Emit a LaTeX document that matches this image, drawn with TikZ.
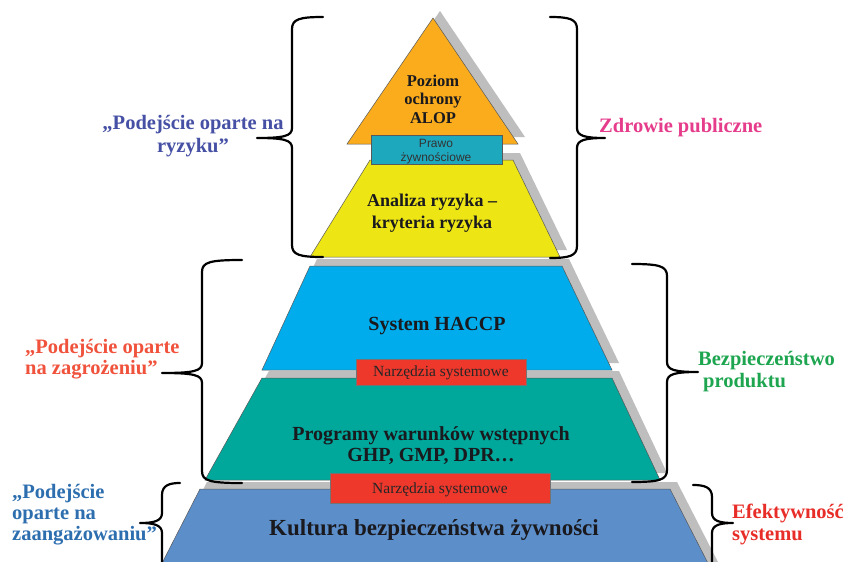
\documentclass[tikz,border=0pt]{standalone}
\usepackage{fontspec}
\setmainfont{Liberation Serif}
\newfontfamily\sansf{Liberation Sans}
\definecolor{cOrange}{RGB}{250,172,28}
\definecolor{cYellow}{RGB}{238,230,20}
\definecolor{cCyan}{RGB}{0,172,236}
\definecolor{cTeal}{RGB}{0,168,156}
\definecolor{cSteel}{RGB}{92,142,202}
\definecolor{cRed}{RGB}{238,56,44}
\definecolor{cLaw}{RGB}{30,168,190}
\definecolor{cShadow}{RGB}{190,190,190}
\definecolor{cLblBlue}{RGB}{70,80,165}
\definecolor{cLblRed}{RGB}{240,82,60}
\definecolor{cLblSteel}{RGB}{45,110,175}
\definecolor{cLblPink}{RGB}{230,60,140}
\definecolor{cLblGreen}{RGB}{30,165,80}
\definecolor{cLblRed2}{RGB}{232,45,40}
\definecolor{cTxt}{RGB}{25,25,30}
\newcommand{\BraceLeft}[6]{%
  \draw[bracestyle] (#1,#4) .. controls (#2+8,#4) and (#2,#4+2) .. (#2,#4+12)
    -- (#2,#5-10) .. controls (#2,#5-2) and (#2-8,#5) .. (#3,#5)
    .. controls (#2-8,#5) and (#2,#5+2) .. (#2,#5+10)
    -- (#2,#6-12) .. controls (#2,#6-2) and (#2+8,#6) .. (#1,#6);}
\newcommand{\BraceRight}[6]{%
  \draw[bracestyle] (#1,#4) .. controls (#2-8,#4) and (#2,#4+2) .. (#2,#4+12)
    -- (#2,#5-10) .. controls (#2,#5-2) and (#2+8,#5) .. (#3,#5)
    .. controls (#2+8,#5) and (#2,#5+2) .. (#2,#5+10)
    -- (#2,#6-12) .. controls (#2,#6-2) and (#2-8,#6) .. (#1,#6);}
\begin{document}
\begin{tikzpicture}[x=1pt,y=-1pt,
  shadowfill/.style={fill=cShadow,draw=none},
  layer/.style={draw=black!65,line width=0.5pt},
  tagbox/.style={draw=black!55,line width=0.5pt,fill=cRed},
  lvl/.style={anchor=base,inner sep=0pt,text=cTxt,font=\bfseries\fontsize{20}{24}\selectfont},
  lbl/.style={anchor=base,inner sep=0pt,font=\bfseries\fontsize{20.5}{24}\selectfont},
  bracestyle/.style={draw=black,line width=2.2pt,line cap=round,line join=round}]
\path[use as bounding box,clip] (0,0) rectangle (847,562);
\fill[white] (0,0) rectangle (847,562);
% shadows
\begin{scope}[shift={(7,-7)}]
  \fill[shadowfill] (433,18) -- (518,144) -- (347,144) -- cycle;
  \fill[shadowfill] (370,160) -- (513,160) -- (560,257) -- (310,257) -- cycle;
  \fill[shadowfill] (310,266) -- (562,266) -- (612,370) -- (262,370) -- cycle;
  \fill[shadowfill] (262,378) -- (612,378) -- (660,480) -- (205,480) -- cycle;
  \fill[shadowfill] (200,489) -- (670,489) -- (714,575) -- (156,575) -- cycle;
\end{scope}
% layers
\filldraw[layer,fill=cOrange] (433,18) -- (518,144) -- (347,144) -- cycle;
\filldraw[layer,fill=cYellow] (370,160) -- (513,160) -- (560,257) -- (310,257) -- cycle;
\filldraw[layer,fill=cCyan] (310,266) -- (562,266) -- (612,370) -- (262,370) -- cycle;
\filldraw[layer,fill=cTeal] (262,378) -- (612,378) -- (660,480) -- (205,480) -- cycle;
\filldraw[layer,fill=cSteel] (200,489) -- (670,489) -- (714,575) -- (156,575) -- cycle;
% tag boxes
\filldraw[layer,fill=cLaw] (371,135) rectangle (502,164);
\filldraw[tagbox] (356,359) rectangle (526,385);
\filldraw[tagbox] (330,473) rectangle (550,503);
% level texts
\node[lvl,font=\bfseries\fontsize{16.5}{20}\selectfont] (poz1) at (433,86) {Poziom};
\node[lvl,font=\bfseries\fontsize{16.5}{20}\selectfont] (poz2) at (433,104) {ochrony};
\node[lvl,font=\bfseries\fontsize{16.5}{20}\selectfont] (poz3) at (433,123) {ALOP};
\node[anchor=base,inner sep=0pt,text=black!80,font=\sansf\fontsize{12}{14}\selectfont] (law1) at (436,147) {Prawo};
\node[anchor=base,inner sep=0pt,text=black!80,font=\sansf\fontsize{12}{14}\selectfont] (law2) at (436,161) {żywnościowe};
\node[lvl,font=\bfseries\fontsize{18}{22}\selectfont] (ana1) at (432,206) {Analiza ryzyka –};
\node[lvl,font=\bfseries\fontsize{18}{22}\selectfont] (ana2) at (432,228) {kryteria ryzyka};
\node[lvl] (hac) at (437,330) {System HACCP};
\node[anchor=base,inner sep=0pt,text=black!85,font=\fontsize{15.5}{18}\selectfont] (nar1) at (441,376) {Narzędzia systemowe};
\node[lvl] (prg1) at (431,440) {Programy warunków wstępnych};
\node[lvl] (prg2) at (431,461) {GHP, GMP, DPR…};
\node[anchor=base,inner sep=0pt,text=black!85,font=\fontsize{15.5}{18}\selectfont] (nar2) at (440,493) {Narzędzia systemowe};
\node[lvl,font=\bfseries\fontsize{23}{26}\selectfont] (kul) at (434,535) {Kultura bezpieczeństwa żywności};
% braces
\BraceLeft{323}{292}{257}{17}{138}{257}
\BraceRight{550}{577}{605}{17}{138}{258}
\BraceLeft{242}{202}{162}{260}{373}{483}
\BraceRight{632}{667}{698}{264}{372}{482}
\BraceLeft{180}{162}{140}{483}{523}{620}
\BraceRight{693}{712}{733}{485}{523}{620}
% labels
\node[lbl,text=cLblBlue] (r1) at (193,129) {„Podejście oparte na};
\node[lbl,text=cLblBlue] (r2) at (193,152) {ryzyku”};
\node[lbl,anchor=base west,text=cLblPink] (zp) at (599,132) {Zdrowie publiczne};
\node[lbl,anchor=base west,text=cLblRed] (z1) at (25,353) {„Podejście oparte};
\node[lbl,anchor=base west,text=cLblRed] (z2) at (25,374) {na zagrożeniu”};
\node[lbl,anchor=base west,text=cLblGreen] (b1) at (698,365) {Bezpieczeństwo};
\node[lbl,anchor=base west,text=cLblGreen] (b2) at (703,387) {produktu};
\node[lbl,anchor=base west,text=cLblSteel] (a1) at (12,498) {„Podejście};
\node[lbl,anchor=base west,text=cLblSteel] (a2) at (12,519) {oparte na};
\node[lbl,anchor=base west,text=cLblSteel] (a3) at (12,540) {zaangażowaniu”};
\node[lbl,anchor=base west,text=cLblRed2] (e1) at (732,518) {Efektywność};
\node[lbl,anchor=base west,text=cLblRed2] (e2) at (732,540) {systemu};
\end{tikzpicture}
\end{document}
